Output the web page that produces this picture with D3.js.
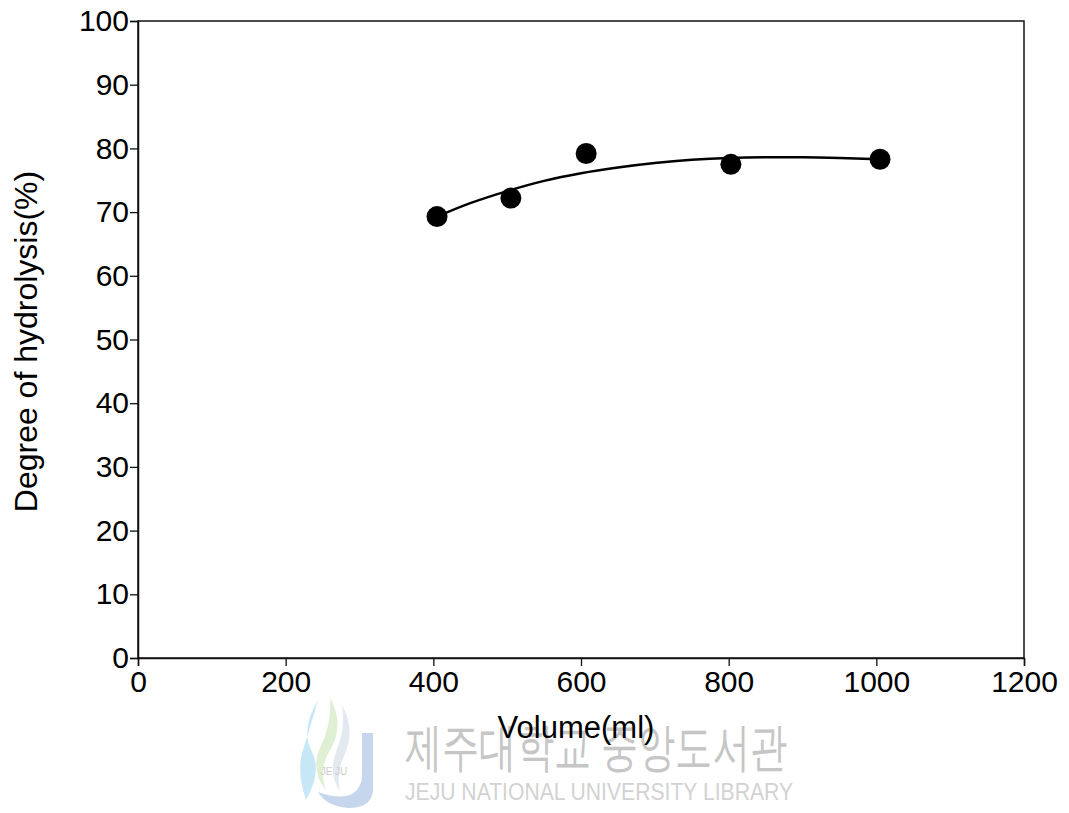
<!DOCTYPE html>
<html>
<head>
<meta charset="utf-8">
<script src="https://cdn.jsdelivr.net/npm/d3@7"></script>
<style>
  body { margin: 0; background: #fff; }
  svg { display: block; }
  text { font-family: "Liberation Sans", Arial, sans-serif; }
</style>
</head>
<body>
<div class="chart"></div>
<script>
// measured points
var volume = [405, 505, 607, 803, 1005];
var hydrolysis = [69.3, 72.2, 79.2, 77.5, 78.3];

// fitted trend line
var fitVolume = [405, 450, 500, 550, 600, 650, 700, 750, 800, 850, 900, 950, 1000];
var fitHydrolysis = [69.3, 71.4, 73.3, 74.9, 76.1, 77.0, 77.7, 78.2, 78.5, 78.6, 78.6, 78.5, 78.3];

var xTicks = [0, 200, 400, 600, 800, 1000, 1200];
var yTicks = [0, 10, 20, 30, 40, 50, 60, 70, 80, 90, 100];

var W = 1069, H = 813;
var margin = {top: 21, right: 45, bottom: 155, left: 138},
  width = W - margin.left - margin.right,
  height = H - margin.top - margin.bottom;

var svg = d3.select(".chart")
  .append("svg")
    .attr("width", W)
    .attr("height", H);

// library watermark, drawn first so the chart sits over it
var logo = svg.append("g").attr("opacity", 0.5);
logo.append("path")
  .attr("d", "M362,733 L373,733 L373,790 Q372,808 348,808 Q326,806 318,792 Q340,800 352,794 Q362,788 362,775 Z")
  .attr("fill", "#8fb0dc");
logo.append("path")
  .attr("d", "M318,700 Q300,730 312,752 Q322,772 306,800 Q296,770 303,750 Q310,728 318,700 Z")
  .attr("fill", "#8fd0ee");
logo.append("path")
  .attr("d", "M330,698 Q345,725 330,750 Q318,770 326,790 Q310,770 320,748 Q332,724 330,698 Z")
  .attr("fill", "#bfe0a8");
logo.append("path")
  .attr("d", "M342,705 Q356,730 344,756 Q336,772 340,792 Q328,772 336,752 Q346,728 342,705 Z")
  .attr("fill", "#c8d4e4");
logo.append("text").attr("x", 334).attr("y", 775).attr("text-anchor", "middle")
  .attr("font-size", 10).attr("fill", "#999").text("JE JU");

svg.append("text")
  .attr("x", 405).attr("y", 765)
  .attr("textLength", 382).attr("lengthAdjust", "spacingAndGlyphs")
  .attr("font-family", "Noto Sans CJK KR")
  .attr("font-size", 52)
  .attr("fill", "#c6c6c6")
  .text("제주대학교 중앙도서관");
svg.append("text")
  .attr("x", 405).attr("y", 800)
  .attr("textLength", 388).attr("lengthAdjust", "spacingAndGlyphs")
  .attr("font-size", 23)
  .attr("fill", "#d2d2d2")
  .text("JEJU NATIONAL UNIVERSITY  LIBRARY");

var g = svg.append("g")
  .attr("transform", "translate(" + margin.left + "," + margin.top + ")");

var x = d3.scaleLinear().domain([0, 1200]).range([0, width]);
var y = d3.scaleLinear().domain([0, 100]).range([height, 0]);

// frame
g.append("rect")
  .attr("width", width)
  .attr("height", height)
  .attr("fill", "none")
  .attr("stroke", "#111")
  .attr("stroke-width", 1.5);

var xAxis = g.append("g")
  .attr("transform", "translate(0," + height + ")")
  .call(d3.axisBottom(x).tickValues(xTicks).tickSize(8).tickPadding(5).tickFormat(d3.format("d")));

var yAxis = g.append("g")
  .call(d3.axisLeft(y).tickValues(yTicks).tickSize(8).tickPadding(1).tickFormat(d3.format("d")));

[xAxis, yAxis].forEach(function(a) {
  a.select(".domain").attr("stroke", "#111").attr("stroke-width", 1.5);
  a.selectAll(".tick line").attr("stroke", "#111").attr("stroke-width", 1.3);
  a.selectAll(".tick text")
    .attr("font-family", "'Liberation Sans', Arial, sans-serif")
    .attr("font-size", 30)
    .attr("fill", "#000");
});

// trend line
var line = d3.line()
  .x(function(d, i) { return x(fitVolume[i]); })
  .y(function(d) { return y(d); })
  .curve(d3.curveMonotoneX);

g.append("path")
  .datum(fitHydrolysis)
  .attr("fill", "none")
  .attr("stroke", "#000")
  .attr("stroke-width", 2.5)
  .attr("d", line);

// points
g.selectAll("circle")
  .data(hydrolysis)
  .enter()
  .append("circle")
    .attr("cx", function(d, i) { return x(volume[i]); })
    .attr("cy", function(d) { return y(d); })
    .attr("r", 10.5)
    .attr("fill", "#000");

// axis titles
svg.append("text")
  .attr("x", 576)
  .attr("y", 738)
  .attr("text-anchor", "middle")
  .attr("font-size", 31)
  .attr("fill", "#000")
  .text("Volume(ml)");

svg.append("text")
  .attr("transform", "translate(37," + (margin.top + height / 2 + 2) + ") rotate(-90)")
  .attr("text-anchor", "middle")
  .attr("font-size", 32)
  .attr("fill", "#000")
  .text("Degree of hydrolysis(%)");
</script>
</body>
</html>
